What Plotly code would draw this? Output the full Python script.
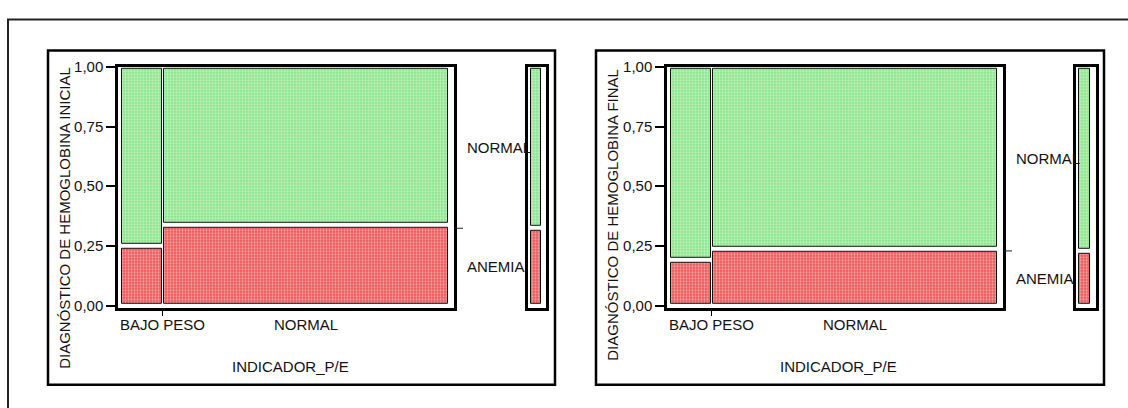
import plotly.graph_objects as go

# ---- data -------------------------------------------------------------
categories = ["BAJO PESO", "NORMAL"]          # INDICADOR_P/E groups
group_share = [0.128, 0.872]                  # column widths (share of children)
anemia_inicial = [0.25, 0.335]                # share with ANEMIA, initial Hb
anemia_final = [0.19, 0.235]                  # share with ANEMIA, final Hb
diag_levels = ["ANEMIA", "NORMAL"]
y_ticks = [0.0, 0.25, 0.5, 0.75, 1.0]
y_tick_text = ["0,00", "0,25", "0,50", "0,75", "1,00"]
panel_titles = ["DIAGNÓSTICO DE HEMOGLOBINA INICIAL",
                "DIAGNÓSTICO DE HEMOGLOBINA FINAL"]
x_title = "INDICADOR_P/E"

# ---- style ------------------------------------------------------------
W, H = 1128, 408
FONT = "Liberation Sans, Arial, sans-serif"
FS = 15
RED = "#ec5c5c"
GREEN = "#7ce27c"
GAP_X = 0.006        # white gap between columns (data units)
GAP_Y = 0.010        # half gap between stacked tiles
PAD_B = 0.008
PAD_T = 0.008


def px(x):
    return x / W


def py(y):
    return 1 - y / H


def pattern(color, solidity):
    return dict(shape=".", fgcolor="white", bgcolor=color, size=3, solidity=solidity)


RED_PAT = pattern(RED, 0.35)
GREEN_PAT = pattern(GREEN, 0.55)

fig = go.Figure()

panels = [
    dict(data=anemia_inicial, title=panel_titles[0], x0=118, x1=454,
         mx0=528, mx1=546, box=(48, 43, 555, 390), ax=("x", "y"), max=("x2", "y2"),
         ytitle_x=65, ytitle_top=58, xtitle_x=290),
    dict(data=anemia_final, title=panel_titles[1], x0=667, x1=1003,
         mx0=1076, mx1=1096, box=(596, 43, 1104, 390), ax=("x3", "y3"), max=("x4", "y4"),
         ytitle_x=613, ytitle_top=60, xtitle_x=838),
]

y_range = [-2 / 248, 1.0]
annotations = []
shapes = [
    # page frame, running off the right and bottom edges
    dict(type="rect", xref="paper", yref="paper", x0=px(8), y0=py(430), x1=px(1150), y1=py(11),
         line=dict(color="#222", width=2)),
]

for k, p in enumerate(panels):
    xa, ya = p["ax"]
    mxa, mya = p["max"]
    # mosaic tiles
    starts = [sum(group_share[:i]) for i in range(len(group_share))]
    centers = [s + w / 2 for s, w in zip(starts, group_share)]
    widths = [w - GAP_X for w in group_share]
    an = p["data"]
    fig.add_trace(go.Bar(
        x=centers, width=widths, base=[PAD_B] * len(an),
        y=[a - GAP_Y - PAD_B for a in an], xaxis=xa, yaxis=ya,
        marker=dict(color=RED, pattern=RED_PAT, line=dict(color="#111", width=1)),
        name=diag_levels[0], showlegend=False, hoverinfo="skip"))
    fig.add_trace(go.Bar(
        x=centers, width=widths, base=[a + GAP_Y for a in an],
        y=[1 - PAD_T - (a + GAP_Y) for a in an], xaxis=xa, yaxis=ya,
        marker=dict(color=GREEN, pattern=GREEN_PAT, line=dict(color="#111", width=1)),
        name=diag_levels[1], showlegend=False, hoverinfo="skip"))

    # marginal column
    m = sum(w * a for w, a in zip(group_share, an))
    fig.add_trace(go.Bar(
        x=[0], width=[1], base=[PAD_B], y=[m - GAP_Y - PAD_B], xaxis=mxa, yaxis=mya,
        marker=dict(color=RED, pattern=RED_PAT, line=dict(color="#111", width=1)),
        showlegend=False, hoverinfo="skip"))
    fig.add_trace(go.Bar(
        x=[0], width=[1], base=[m + GAP_Y], y=[1 - PAD_T - (m + GAP_Y)], xaxis=mxa, yaxis=mya,
        marker=dict(color=GREEN, pattern=GREEN_PAT, line=dict(color="#111", width=1)),
        showlegend=False, hoverinfo="skip"))

    sfx = xa[1:]
    msfx = mxa[1:]
    ydom = [py(310), py(60)]
    fig.update_layout(**{
        f"xaxis{sfx}": dict(domain=[px(p["x0"]), px(p["x1"])],
                            range=[-3 / 328, 1 + 5 / 328], anchor=ya,
                            showline=True, mirror=True, linewidth=2.5, linecolor="black",
                            tickvals=[group_share[0]], ticks="outside", ticklen=6,
                            tickwidth=1, tickcolor="black", showticklabels=False,
                            showgrid=False, zeroline=False, fixedrange=True),
        f"yaxis{sfx}": dict(domain=ydom, range=y_range, anchor=xa,
                            showline=True, mirror=True, linewidth=2.5, linecolor="black",
                            tickvals=y_ticks, ticktext=y_tick_text, ticks="outside",
                            ticklen=9, tickwidth=2, tickcolor="black",
                            tickfont=dict(family=FONT, size=FS, color="#111"),
                            showgrid=False, zeroline=False, fixedrange=True),
        f"xaxis{msfx}": dict(domain=[px(p["mx0"]), px(p["mx1"])], range=[-0.8, 1.0],
                             anchor=mya, showline=True, mirror=True, linewidth=2.5,
                             linecolor="black", showticklabels=False, ticks="",
                             showgrid=False, zeroline=False, fixedrange=True),
        f"yaxis{msfx}": dict(domain=ydom, range=y_range, anchor=mxa,
                             showline=True, mirror=True, linewidth=2.5, linecolor="black",
                             showticklabels=False, ticks="", showgrid=False,
                             zeroline=False, fixedrange=True),
    })

    # category labels under the mosaic
    label_x = [group_share[0], centers[1]]
    for lab, lx in zip(categories, label_x):
        annotations.append(dict(text=lab, xref=xa, x=lx, yref="paper", y=py(328),
                                xanchor="center", yanchor="middle", showarrow=False,
                                font=dict(family=FONT, size=FS, color="#111")))
    # level labels beside the marginal column
    for lab, yc in zip(diag_levels, [m / 2, (m + 1) / 2]):
        annotations.append(dict(text=lab, xref="paper", x=px(p["x1"] + 11), yref=ya, y=yc,
                                xanchor="left", yanchor="middle", showarrow=False,
                                font=dict(family=FONT, size=FS, color="#111")))
    # small mark at the marginal split
    shapes.append(dict(type="line", xref="paper", x0=px(p["x1"] + 1), x1=px(p["x1"] + 9),
                       yref=ya, y0=m, y1=m, line=dict(color="#222", width=1)))
    # axis titles
    annotations.append(dict(text=p["title"], textangle=-90, xref="paper", x=px(p["ytitle_x"]),
                            yref="paper", y=py(p["ytitle_top"]), xanchor="center",
                            yanchor="top", showarrow=False,
                            font=dict(family=FONT, size=FS, color="#111")))
    annotations.append(dict(text=x_title, xref="paper", x=px(p["xtitle_x"]), yref="paper",
                            y=py(371), xanchor="center", yanchor="middle", showarrow=False,
                            font=dict(family=FONT, size=FS, color="#111")))
    b = p["box"]
    shapes.append(dict(type="rect", xref="paper", yref="paper", x0=px(b[0]), y0=py(b[3]),
                       x1=px(b[2]), y1=py(b[1]), line=dict(color="black", width=2.5)))

fig.update_layout(
    width=W, height=H, margin=dict(l=0, r=0, t=0, b=0),
    paper_bgcolor="white", plot_bgcolor="white",
    barmode="overlay", bargap=0,
    annotations=annotations, shapes=shapes,
    font=dict(family=FONT, size=FS, color="#111"),
)

fig.write_html("out.html")
